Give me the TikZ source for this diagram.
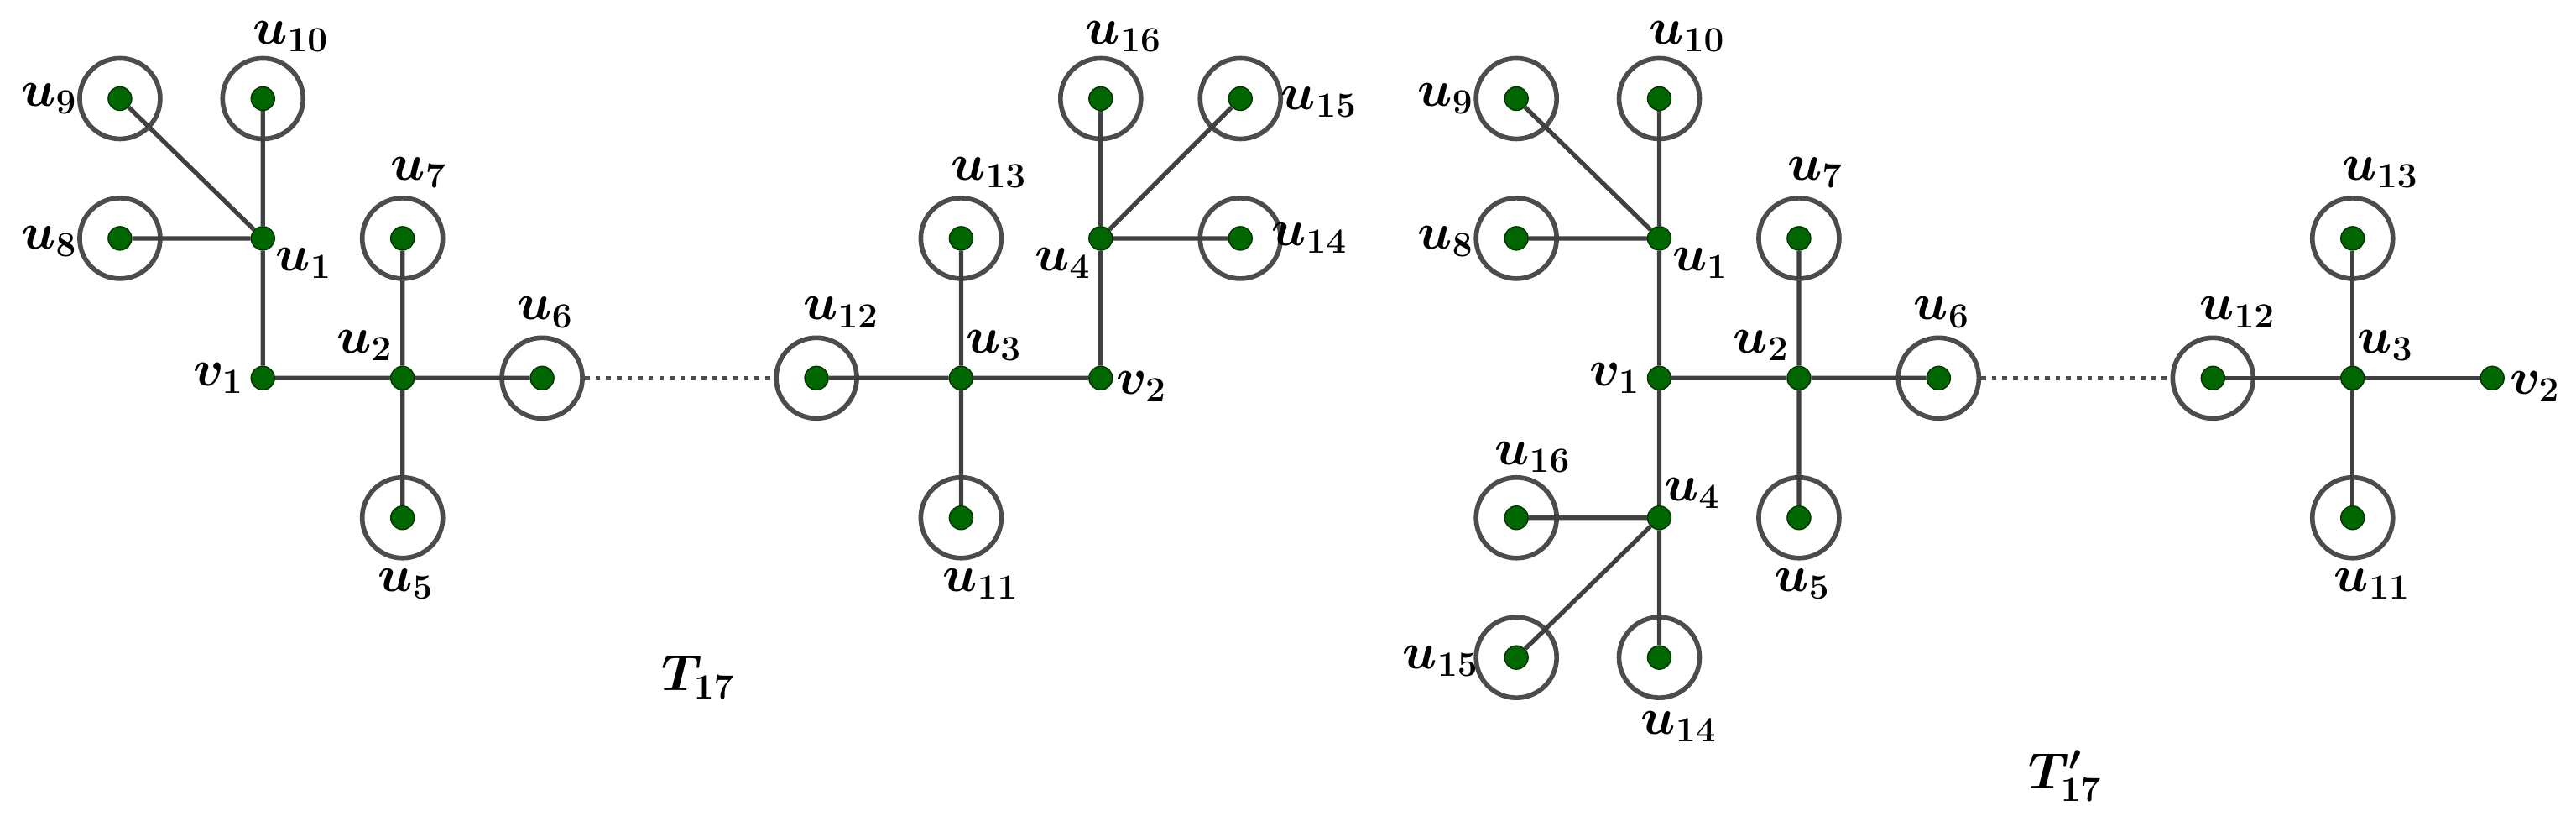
\documentclass[tikz,border=0pt]{standalone}
\usepackage{amsmath,bm}
\begin{document}
\begin{tikzpicture}[x=0.01958cm,y=-0.01958cm,
 v/.style={circle,fill=green!40!black,draw=green!20!black,inner sep=0pt,minimum size=0.28cm},
 ring/.style={circle,draw=black!70,line width=1.6pt,minimum size=0.96cm,inner sep=0pt},
 e/.style={draw=black!75,line width=1.5pt},
 lab/.style={font=\fontsize{18}{20}\selectfont,inner sep=0pt}]
\useasboundingbox (0,0) rectangle (1568,506);
\newcommand{\vx}[3]{\node[v] (#1) at (#2,#3) {};}
\newcommand{\rv}[3]{\node[ring] (#1r) at (#2,#3) {}; \node[v] (#1) at (#2,#3) {};}
\newcommand{\lb}[3]{\node[lab] at (#1,#2) {$\bm{#3}$};}
% left tree
\rv{a9}{73}{60} \rv{a10}{160}{60} \rv{a8}{73}{145} \vx{a1}{160}{145}
\rv{a7}{245}{145} \vx{av1}{160}{230} \vx{a2}{245}{230} \rv{a6}{330}{230}
\rv{a5}{245}{315} \rv{a12}{497}{230} \vx{a3}{585}{230} \vx{av2}{670}{230}
\rv{a13}{585}{145} \rv{a11}{585}{315} \vx{a4}{670}{145} \rv{a16}{670}{60}
\rv{a15}{755}{60} \rv{a14}{755}{145}
\draw[e] (a9)--(a1) (a10)--(a1) (a8)--(a1) (a1)--(av1) (av1)--(a2) (a2)--(a7) (a2)--(a5) (a2)--(a6);
\draw[e] (a12)--(a3) (a3)--(av2) (a3)--(a13) (a3)--(a11) (av2)--(a4) (a4)--(a16) (a4)--(a15) (a4)--(a14);
\draw[black!70,line width=1.6pt,dotted] (a6r)--(a12r);
\lb{30}{60}{u_{9}} \lb{177}{22}{u_{10}} \lb{30}{147}{u_{8}} \lb{185}{160}{u_{1}}
\lb{255}{105}{u_{7}} \lb{133}{230}{v_{1}} \lb{222}{210}{u_{2}} \lb{332}{190}{u_{6}}
\lb{247}{355}{u_{5}} \lb{512}{190}{u_{12}} \lb{605}{210}{u_{3}} \lb{695}{235}{v_{2}}
\lb{602}{105}{u_{13}} \lb{597}{355}{u_{11}} \lb{647}{160}{u_{4}} \lb{684}{22}{u_{16}}
\lb{803}{62}{u_{15}} \lb{797}{145}{u_{14}} \lb{425}{412}{T_{17}}
% right tree
\rv{b9}{923}{60} \rv{b10}{1010}{60} \rv{b8}{923}{145} \vx{b1}{1010}{145}
\rv{b7}{1095}{145} \vx{bv1}{1010}{230} \vx{b2}{1095}{230} \rv{b6}{1180}{230}
\rv{b5}{1095}{315} \vx{b4}{1010}{315} \rv{b16}{923}{315} \rv{b15}{923}{400}
\rv{b14}{1010}{400} \rv{b12}{1347}{230} \vx{b3}{1432}{230} \vx{bv2}{1517}{230}
\rv{b13}{1432}{145} \rv{b11}{1432}{315}
\draw[e] (b9)--(b1) (b10)--(b1) (b8)--(b1) (b1)--(bv1) (bv1)--(b2) (b2)--(b7) (b2)--(b5) (b2)--(b6)
 (bv1)--(b4) (b4)--(b16) (b4)--(b15) (b4)--(b14);
\draw[e] (b12)--(b3) (b3)--(bv2) (b3)--(b13) (b3)--(b11);
\draw[black!70,line width=1.6pt,dotted] (b6r)--(b12r);
\lb{880}{60}{u_{9}} \lb{1027}{22}{u_{10}} \lb{880}{147}{u_{8}} \lb{1035}{160}{u_{1}}
\lb{1105}{105}{u_{7}} \lb{983}{230}{v_{1}} \lb{1072}{210}{u_{2}} \lb{1182}{190}{u_{6}}
\lb{1097}{355}{u_{5}} \lb{1030}{300}{u_{4}} \lb{933}{278}{u_{16}} \lb{877}{402}{u_{15}}
\lb{1022}{442}{u_{14}} \lb{1362}{190}{u_{12}} \lb{1452}{210}{u_{3}} \lb{1543}{235}{v_{2}}
\lb{1449}{105}{u_{13}} \lb{1444}{355}{u_{11}} \lb{1257}{472}{T'_{17}}
\end{tikzpicture}
\end{document}
